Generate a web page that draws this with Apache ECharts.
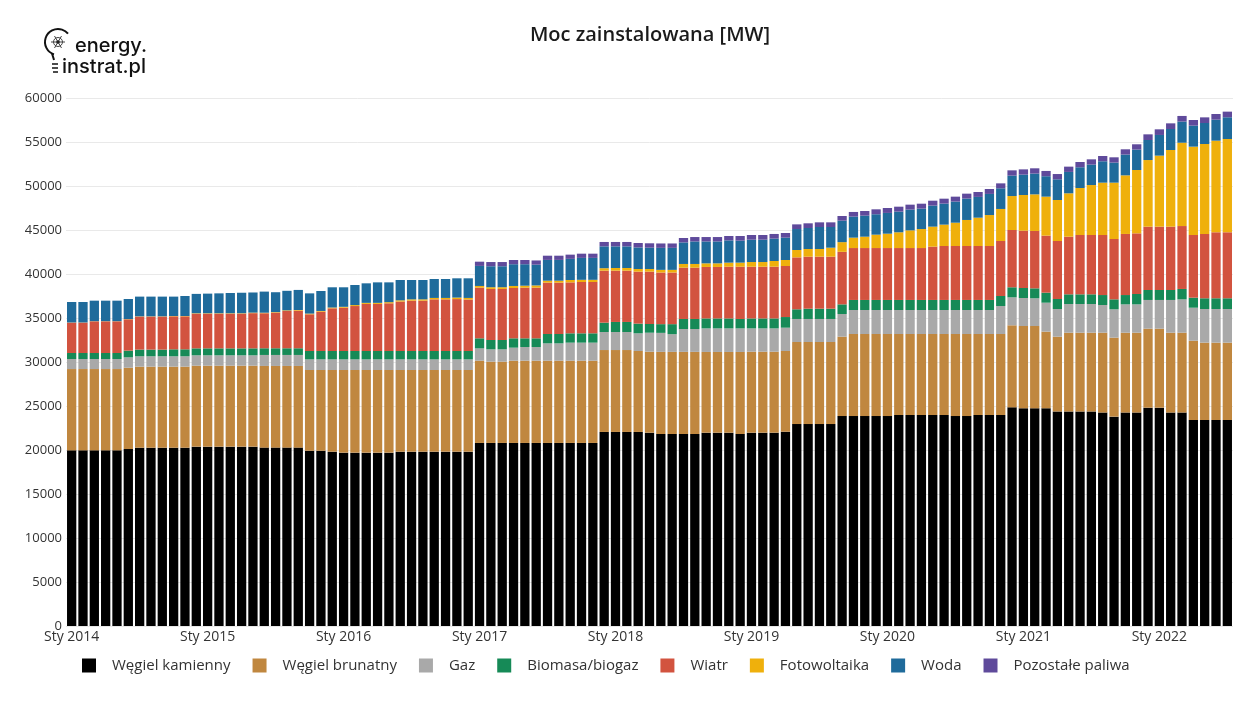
<!DOCTYPE html>
<html>
<head>
<meta charset="utf-8">
<script src="https://cdn.jsdelivr.net/npm/echarts@6/dist/echarts.min.js"></script>
<style>
html,body{margin:0;padding:0;background:#fff;}
#chart{width:1257px;height:702px;}
</style>
</head>
<body>
<div id="chart"></div>
<script>
// ---- tick / category labels ----
const monthNames = ['Sty','Lut','Mar','Kwi','Maj','Cze','Lip','Sie','Wrz','Paź','Lis','Gru'];
const years = [2014,2015,2016,2017,2018,2019,2020,2021,2022];
const lastMonthIndex2022 = 6; // data ends in July 2022

const seriesNames = ['Węgiel kamienny','Węgiel brunatny','Gaz','Biomasa/biogaz','Wiatr','Fotowoltaika','Woda','Pozostałe paliwa'];

// ---- values [MW], monthly, Jan 2014 .. Jul 2022 ----
const wegielKamienny = [
 19960,19960,19960,19960,19960,20110,20260,20260,20260,20260,20260,20380,
 20380,20380,20380,20380,20380,20270,20270,20270,20270,19920,19920,19810,
 19700,19700,19700,19700,19700,19810,19810,19810,19810,19810,19810,19810,
 20800,20800,20800,20800,20800,20800,20800,20800,20800,20800,20800,22050,
 22050,22050,22050,21970,21820,21820,21820,21820,21970,21970,21970,21820,
 21970,21970,21970,22080,22950,22950,22950,22950,23860,23860,23860,23860,
 23860,23980,23980,23980,23980,23980,23860,23860,23980,23980,23980,24850,
 24740,24740,24740,24380,24380,24380,24380,24260,23790,24260,24260,24810,
 24810,24260,24260,23410,23410,23410,23410
];
const wegielBrunatny = [
 9240,9240,9240,9240,9240,9240,9210,9210,9210,9210,9210,9200,
 9200,9200,9200,9200,9200,9280,9280,9280,9280,9170,9170,9280,
 9390,9390,9390,9390,9390,9280,9280,9280,9280,9280,9280,9280,
 9350,9240,9240,9350,9350,9350,9350,9350,9350,9350,9350,9310,
 9310,9310,9200,9200,9330,9330,9330,9330,9170,9170,9170,9320,
 9200,9200,9200,9170,9320,9320,9320,9320,9020,9320,9320,9320,
 9320,9200,9200,9200,9200,9200,9320,9320,9200,9200,9200,9320,
 9350,9350,8710,8500,8950,8950,8950,9070,8980,9070,9070,8980,
 8980,9070,9070,9010,8790,8790,8790
];
const gaz = [
 1140,1140,1140,1140,1140,1180,1180,1180,1180,1180,1180,1180,
 1180,1180,1180,1180,1180,1250,1250,1250,1250,1210,1210,1210,
 1210,1210,1210,1210,1210,1210,1210,1210,1210,1210,1210,1210,
 1400,1400,1400,1480,1550,1550,1970,1970,2050,2050,2050,2050,
 2050,2050,2010,2160,2160,2010,2600,2600,2680,2680,2680,2680,
 2650,2650,2650,2650,2620,2620,2620,2620,2570,2730,2730,2730,
 2730,2730,2730,2730,2730,2730,2730,2730,2730,2730,3180,3180,
 3180,3150,3290,3140,3260,3260,3260,3150,3220,3220,3220,3260,
 3260,3720,3790,3750,3820,3820,3820
];
const biomasa = [
 680,680,680,680,680,760,760,760,760,790,790,790,
 790,790,790,790,790,760,760,760,760,950,950,950,
 950,950,950,950,950,950,950,950,950,950,950,950,
 1140,1060,1060,1060,990,990,1060,1060,1060,1060,1060,1060,
 1140,1140,1100,990,990,1140,1140,1140,1130,1130,1130,1070,
 1130,1130,1130,1210,1100,1170,1170,1170,1100,1140,1140,1140,
 1140,1140,1140,1140,1140,1140,1140,1140,1140,1140,1140,1140,
 1140,1130,1140,1140,1100,1100,1100,1130,1130,1060,1180,1130,
 1130,1130,1180,1140,1220,1220,1220
];
const wiatr = [
 3450,3450,3600,3600,3600,3560,3750,3750,3750,3750,3750,3940,
 3940,3940,3940,3940,4000,3980,4050,4240,4280,4170,4470,4850,
 4920,5110,5350,5350,5420,5620,5720,5720,5870,5870,5900,5850,
 5760,5800,5800,5720,5760,5760,5840,5840,5790,5830,5830,5910,
 5830,5830,5910,5950,5870,5870,5830,5830,5850,5850,5880,5940,
 5880,5880,5880,5800,5900,5910,5910,5910,5970,5900,5900,5900,
 5900,5900,5900,5900,6060,6130,6130,6130,6130,6130,6250,6510,
 6510,6520,6480,6590,6550,6740,6740,6820,6860,6940,6890,7200,
 7200,7200,7150,7120,7310,7500,7500
];
const fotowoltaika = [
 20,20,20,20,20,30,30,30,30,40,40,50,
 50,50,50,50,60,60,60,70,70,80,80,90,
 100,110,120,120,130,140,150,150,160,160,170,180,
 190,200,200,230,220,250,220,220,270,250,250,280,
 300,300,300,300,300,300,420,420,410,410,460,460,
 530,530,650,680,840,870,870,1020,1100,1180,1290,1520,
 1630,1790,2010,2160,2270,2430,2650,2960,3220,3520,3640,3860,
 4060,4160,4430,4660,4930,5340,5680,5950,6400,6660,7200,7570,
 8070,8710,9470,10040,10220,10410,10600
];
const woda = [
 2330,2330,2330,2330,2330,2280,2240,2240,2240,2200,2270,2200,
 2230,2260,2300,2330,2290,2400,2260,2220,2280,2300,2270,2300,
 2220,2280,2220,2330,2250,2310,2200,2200,2150,2150,2190,2230,
 2280,2380,2380,2470,2440,2360,2360,2360,2400,2490,2490,2480,
 2460,2460,2450,2420,2500,2500,2450,2560,2490,2490,2530,2500,
 2540,2540,2540,2540,2380,2390,2500,2350,2440,2390,2390,2320,
 2360,2350,2360,2320,2390,2390,2400,2430,2360,2400,2350,2320,
 2310,2360,2320,2350,2430,2360,2320,2430,2280,2360,2320,2280,
 2350,2390,2400,2390,2390,2390,2470
];
const pozostale = [
 0,0,0,0,0,0,0,0,0,0,0,0,
 0,0,0,0,0,0,0,0,0,0,0,0,
 0,0,0,0,0,0,0,0,0,0,0,0,
 480,480,480,480,480,480,480,480,480,480,480,500,
 500,500,500,500,500,500,500,500,500,500,500,530,
 530,530,530,530,530,530,530,530,530,530,530,560,
 560,560,560,560,560,560,560,560,560,560,560,600,
 600,600,600,600,600,600,600,600,600,600,600,640,
 640,640,640,640,640,640,640
];

const colors = ['#000000','#c0873f','#a9a9a9','#168a57','#d2533f','#efb00c','#1f6b9b','#5f4a9b'];

// categories built from the label arrays
const categories = [];
years.forEach(function(y){
  const last = (y === 2022) ? lastMonthIndex2022 : 11;
  for (let m = 0; m <= last; m++) categories.push(monthNames[m] + ' ' + y);
});

const allData = [wegielKamienny, wegielBrunatny, gaz, biomasa, wiatr, fotowoltaika, woda, pozostale];

const font = '"Open Sans", "Noto Sans", sans-serif';

const chart = echarts.init(document.getElementById('chart'), null, {renderer:'canvas'});

const series = seriesNames.map(function(name, k){
  return {
    name: name,
    type: 'bar',
    stack: 'total',
    data: allData[k],
    barCategoryGap: '18%',
    itemStyle: { color: colors[k] },
    emphasis: { disabled: true }
  };
});

const option = {
  animation: false,
  backgroundColor: '#ffffff',
  color: colors,
  title: {
    text: 'Moc zainstalowana [MW]',
    left: 645,
    top: 20,
    textAlign: 'center',
    textStyle: { fontFamily: font, fontSize: 20, fontWeight: 600, color: '#1a1a1a' }
  },
  legend: {
    data: seriesNames,
    left: 77,
    top: 653,
    itemWidth: 14,
    itemHeight: 14,
    itemGap: 22,
    icon: 'rect',
    textStyle: { fontFamily: font, fontSize: 15, color: '#333', padding: [0,0,0,11] }
  },
  grid: { left: 66, right: 24, top: 98, bottom: 76, containLabel: false },
  xAxis: {
    type: 'category',
    data: categories,
    axisLine: { show: false },
    axisTick: { show: false },
    axisLabel: { interval: 11, color: '#333', fontSize: 14, fontFamily: font, margin: 4 }
  },
  yAxis: {
    type: 'value',
    min: 0,
    max: 60000,
    interval: 5000,
    axisLine: { show: false },
    axisTick: { show: false },
    axisLabel: { color: '#333', fontSize: 13, fontFamily: font, margin: 4,
                 formatter: function(v){ return String(v); } },
    splitLine: { lineStyle: { color: '#e9e9e9', width: 1 } }
  },
  graphic: [
    { type: 'arc', shape: { cx: 58, cy: 42, r: 13, startAngle: Math.PI * 0.6, endAngle: Math.PI * 1.78, clockwise: true },
      style: { stroke: '#111', lineWidth: 2, fill: null } },
    { type: 'line', shape: { x1: 52, y1: 53.5, x2: 54, y2: 60 }, style: { stroke: '#111', lineWidth: 2 } },
    { type: 'line', shape: { x1: 51, y1: 42, x2: 65, y2: 42 }, style: { stroke: '#444', lineWidth: 1 } },
    { type: 'line', shape: { x1: 54.5, y1: 36, x2: 61.5, y2: 48 }, style: { stroke: '#444', lineWidth: 1 } },
    { type: 'line', shape: { x1: 61.5, y1: 36, x2: 54.5, y2: 48 }, style: { stroke: '#444', lineWidth: 1 } },
    { type: 'circle', shape: { cx: 58, cy: 42, r: 4.5 }, style: { stroke: '#444', lineWidth: 1, fill: null } },
    { type: 'circle', shape: { cx: 58, cy: 42, r: 1.8 }, style: { fill: '#222' } },
    { type: 'line', shape: { x1: 52, y1: 64, x2: 58, y2: 64 }, style: { stroke: '#111', lineWidth: 1.5 } },
    { type: 'line', shape: { x1: 52, y1: 68, x2: 58, y2: 68 }, style: { stroke: '#111', lineWidth: 1.5 } },
    { type: 'line', shape: { x1: 53, y1: 72, x2: 58, y2: 72 }, style: { stroke: '#111', lineWidth: 1.5 } },
    { type: 'text', left: 75, top: 36, style: { text: 'energy.', fontFamily: '"Inter", "Open Sans", sans-serif', fontSize: 20, fontWeight: 500, fill: '#111' } },
    { type: 'text', left: 62, top: 57, style: { text: 'instrat.pl', fontFamily: '"Inter", "Open Sans", sans-serif', fontSize: 20, fontWeight: 500, fill: '#111' } }
  ],
  series: series
};

chart.setOption(option);
</script>
</body>
</html>
